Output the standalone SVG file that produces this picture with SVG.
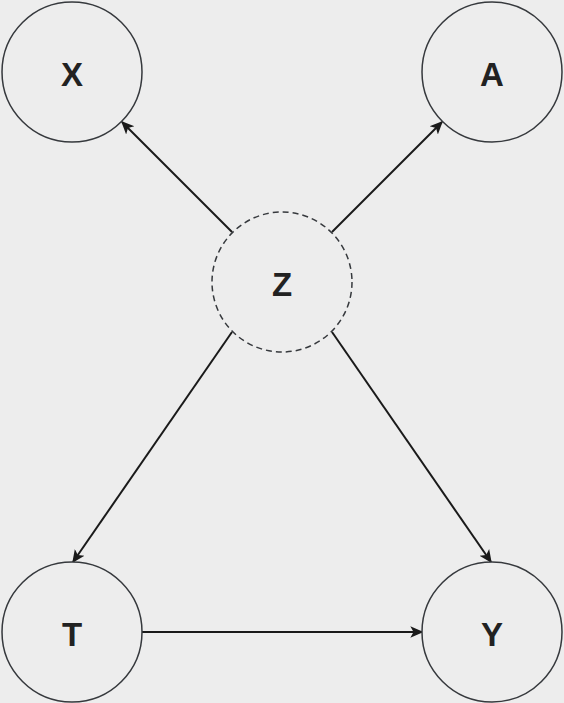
<svg xmlns="http://www.w3.org/2000/svg" width="564" height="703" viewBox="0 0 564 703">
<style>
.node{fill:#EDEDED;stroke:#36393d;stroke-width:1.5}
.dashed{stroke-dasharray:6 4}
.lbl{font-family:"Liberation Sans",Arial,sans-serif;font-weight:bold;font-size:33px;fill:#222222;text-anchor:middle;dominant-baseline:central}
.edge{stroke:#1a1a1a;stroke-width:2;fill:none;marker-end:url(#arr)}
</style>
<defs>
<marker id="arr" viewBox="0 0 10 10" refX="9" refY="5" markerWidth="13" markerHeight="13" markerUnits="userSpaceOnUse" orient="auto">
<path d="M0,0.5 L10,5 L0,9.5 L2.5,5 Z" fill="#1a1a1a"/>
</marker>
</defs>
<rect width="564" height="703" fill="#EDEDED"/>
<g id="edges">
<line class="edge" x1="232" y1="232" x2="122" y2="122"/>
<line class="edge" x1="332" y1="232" x2="442" y2="122"/>
<line class="edge" x1="232" y1="332" x2="73" y2="562"/>
<line class="edge" x1="332" y1="332" x2="491" y2="562"/>
<line class="edge" x1="142" y1="632" x2="422" y2="632"/>
</g>
<g id="X"><circle class="node" cx="72" cy="72" r="70"/><text class="lbl" x="72" y="74">X</text></g>
<g id="A"><circle class="node" cx="492" cy="72" r="70"/><text class="lbl" x="492" y="74">A</text></g>
<g id="Z"><circle class="node dashed" cx="282" cy="282" r="70"/><text class="lbl" x="282" y="284">Z</text></g>
<g id="T"><circle class="node" cx="72" cy="632" r="70"/><text class="lbl" x="72" y="634">T</text></g>
<g id="Y"><circle class="node" cx="492" cy="632" r="70"/><text class="lbl" x="492" y="634">Y</text></g>
</svg>
